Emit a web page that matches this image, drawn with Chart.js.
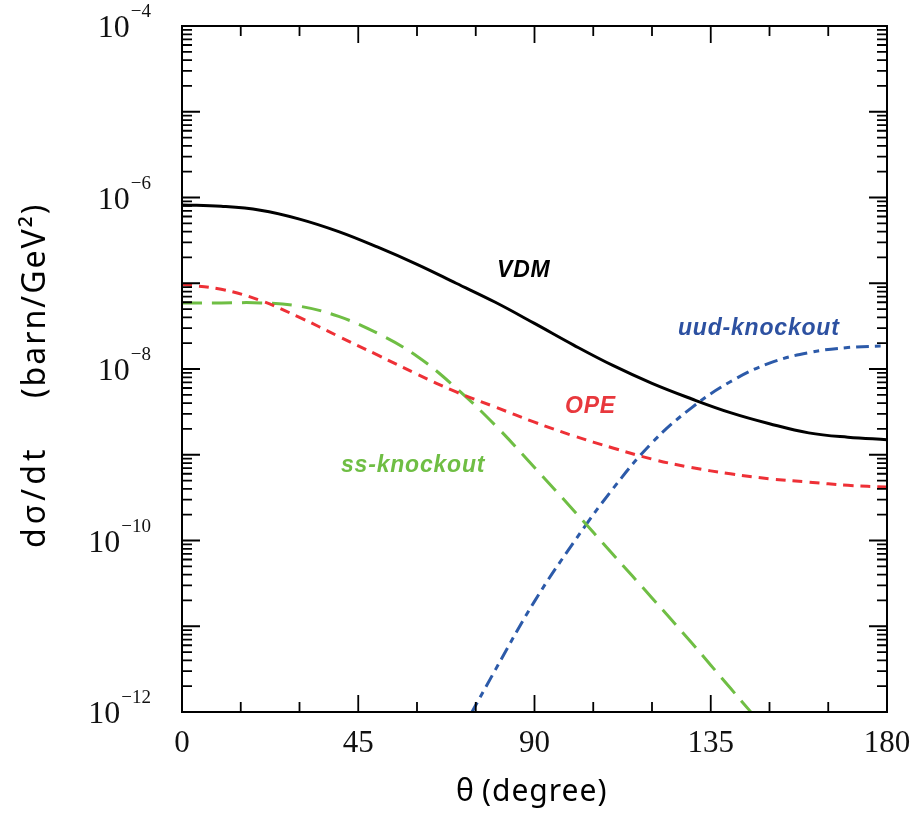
<!DOCTYPE html>
<html>
<head>
<meta charset="utf-8">
<script src="https://cdn.jsdelivr.net/npm/chart.js@4.4.1/dist/chart.umd.min.js"></script>
<style>
  body { margin: 0; background: #fff; }
  canvas { display: block; }
</style>
</head>
<body>
<canvas id="xsecChart" width="917" height="814"></canvas>
<script>
// theta in degrees, cross sections in barn/GeV^2
const thetaDeg = [0, 10, 20, 30, 40, 50, 60, 70, 80, 90, 100, 110, 120, 130, 140, 150, 160, 170, 180];
const vdm = [8.2e-7, 7.9e-7, 7.1e-7, 5.6e-7, 4.0e-7, 2.63e-7, 1.66e-7, 1.0e-7, 6.0e-8, 3.4e-8,
  1.9e-8, 1.1e-8, 6.8e-9, 4.5e-9, 3.1e-9, 2.3e-9, 1.8e-9, 1.6e-9, 1.5e-9];
const ope = [9.7e-8, 8.5e-8, 6.3e-8, 4.0e-8, 2.4e-8, 1.45e-8, 8.7e-9, 5.4e-9, 3.6e-9, 2.4e-9,
  1.66e-9, 1.2e-9, 8.9e-10, 7.1e-10, 6.0e-10, 5.25e-10, 4.8e-10, 4.4e-10, 4.2e-10];
const ssKnockout = [5.9e-8, 5.9e-8, 5.9e-8, 5.4e-8, 4.1e-8, 2.6e-8, 1.41e-8, 6.0e-9, 2.2e-9, 7.1e-10,
  2.24e-10, 6.9e-11, 2.14e-11, 6.5e-12, 1.9e-12, 5.6e-13, null, null, null];
const uudKnockout = [null, null, null, null, null, null, null, 4.6e-13, 3.1e-12, 1.95e-11,
  9.5e-11, 4.0e-10, 1.38e-9, 3.5e-9, 7.1e-9, 1.17e-8, 1.55e-8, 1.78e-8, 1.86e-8];

const xTickValues = [0, 45, 90, 135, 180];
const yLabelExponents = [-4, -6, -8, -10, -12];

function toPoints(vals) {
  return thetaDeg.map((t, i) => ({ x: t, y: vals[i] }));
}

// frame, inward ticks, tick labels, axis titles and curve labels
const figureDecor = {
  id: 'figureDecor',
  afterDatasetsDraw(chart) {
    const { ctx, chartArea: a, scales: { x, y } } = chart;
    ctx.save();
    ctx.strokeStyle = '#000';
    ctx.lineWidth = 2;
    ctx.strokeRect(a.left, a.top, a.right - a.left, a.bottom - a.top);

    ctx.lineWidth = 1.8;
    ctx.beginPath();
    for (let t = 0; t <= 180; t += 15) {
      const px = x.getPixelForValue(t);
      const len = t % 45 === 0 ? 17 : 10;
      ctx.moveTo(px, a.bottom); ctx.lineTo(px, a.bottom - len);
      ctx.moveTo(px, a.top); ctx.lineTo(px, a.top + len);
    }
    for (let e = -12; e <= -4; e++) {
      for (let m = 1; m <= 9; m++) {
        if (e === -4 && m > 1) break;
        const py = y.getPixelForValue(m * Math.pow(10, e));
        const len = m === 1 ? 18 : 10;
        ctx.moveTo(a.left, py); ctx.lineTo(a.left + len, py);
        ctx.moveTo(a.right, py); ctx.lineTo(a.right - len, py);
      }
    }
    ctx.stroke();

    // tick labels
    ctx.fillStyle = '#111';
    ctx.textBaseline = 'alphabetic';
    ctx.font = '31px "Liberation Serif"';
    ctx.textAlign = 'center';
    xTickValues.forEach(v => ctx.fillText(String(v), x.getPixelForValue(v), 752));

    ctx.textAlign = 'left';
    yLabelExponents.forEach(e => {
      const py = y.getPixelForValue(Math.pow(10, e));
      const sup = '\u2212' + Math.abs(e);
      ctx.font = '19px "Liberation Serif"';
      const supW = ctx.measureText(sup).width;
      ctx.font = '32px "Liberation Serif"';
      const tenW = ctx.measureText('10').width;
      const right = 151;
      ctx.fillText('10', right - supW - tenW - 1, py + 11);
      ctx.font = '19px "Liberation Serif"';
      ctx.fillText(sup, right - supW, py - 9);
    });

    // axis titles
    ctx.fillStyle = '#000';
    ctx.letterSpacing = '1px';
    ctx.font = '30px "Noto Sans"';
    ctx.fillText('\u03b8', 456, 801);
    ctx.fillText('(degree)', 482, 801);

    ctx.save();
    ctx.translate(45, 548);
    ctx.rotate(-Math.PI / 2);
    ctx.letterSpacing = '4px';
    ctx.font = '32px "Noto Sans"';
    ctx.fillText('d\u03c3/dt', 0, 0);
    ctx.letterSpacing = '2px';
    ctx.fillText('(barn/GeV\u00b2)', 150, 0);
    ctx.restore();

    // curve labels
    ctx.letterSpacing = '0.8px';
    ctx.font = 'italic bold 23px "Liberation Sans"';
    ctx.fillStyle = '#000';
    ctx.fillText('VDM', 497, 277);
    ctx.fillStyle = '#2d51a1';
    ctx.fillText('uud-knockout', 678, 335);
    ctx.fillStyle = '#e8383d';
    ctx.fillText('OPE', 565, 413);
    ctx.fillStyle = '#6fbe44';
    ctx.fillText('ss-knockout', 341, 472);
    ctx.restore();
  }
};

const ctx = document.getElementById('xsecChart').getContext('2d');
new Chart(ctx, {
  type: 'scatter',
  data: {
    datasets: [
      { label: 'VDM', data: toPoints(vdm), borderColor: '#000', borderWidth: 3 },
      { label: 'OPE', data: toPoints(ope), borderColor: '#ee3036', borderWidth: 3, borderDash: [10, 7] },
      { label: 'ss-knockout', data: toPoints(ssKnockout), borderColor: '#6fbe44', borderWidth: 3, borderDash: [20, 10] },
      { label: 'uud-knockout', data: toPoints(uudKnockout), borderColor: '#2c5aa9', borderWidth: 3, borderDash: [13, 6, 6, 6] }
    ].map(d => Object.assign(d, {
      showLine: true, pointRadius: 0, tension: 0.4, clip: 1
    }))
  },
  options: {
    responsive: false,
    animation: false,
    layout: { padding: { left: 182, top: 26, right: 30, bottom: 102 } },
    plugins: { legend: { display: false }, tooltip: { enabled: false } },
    scales: {
      x: { type: 'linear', min: 0, max: 180, display: false },
      y: { type: 'logarithmic', min: 1e-12, max: 1e-4, display: false }
    }
  },
  plugins: [figureDecor]
});
</script>
</body>
</html>
